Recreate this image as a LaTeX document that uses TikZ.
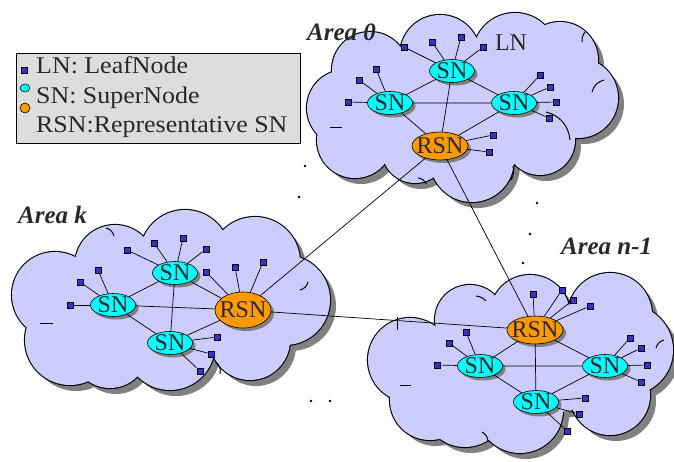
\documentclass[tikz,border=0pt]{standalone}
\usepackage{fontspec}
\setmainfont{Liberation Serif}
\newfontfamily\legendfont[FakeStretch=1.08]{Liberation Serif}
\usetikzlibrary{shapes.geometric,shadows}

\definecolor{cloudc}{RGB}{204,204,255}
\definecolor{shadowc}{RGB}{128,128,128}
\definecolor{snc}{RGB}{0,255,255}
\definecolor{rsnc}{RGB}{255,153,0}
\definecolor{leafc}{RGB}{51,51,204}
\definecolor{legendc}{RGB}{221,221,221}
\definecolor{textc}{RGB}{40,40,40}

% a cloud = union of circles (cx/cy/r) plus a filler ellipse, with a drop shadow
\newcommand\drawcloud[2]{%
  \begin{scope}[shift={(6,6)}]
    \fill[shadowc] \foreach \cx/\cy/\r in {#1}{(\cx,\cy) circle[radius=\r]} #2;
  \end{scope}
  \draw[line width=2.2pt] \foreach \cx/\cy/\r in {#1}{(\cx,\cy) circle[radius=\r]};
  \fill[cloudc] \foreach \cx/\cy/\r in {#1}{(\cx,\cy) circle[radius=\r]} #2;
}

\begin{document}
\begin{tikzpicture}[x=1pt,y=-1pt,
  link/.style={line width=0.7pt},
  curl/.style={line width=1pt},
  nshadow/.style={drop shadow={shadow xshift=3pt,shadow yshift=-3pt,fill=shadowc,opacity=1}},
  sn/.style={ellipse,draw,line width=0.6pt,fill=snc,minimum width=45,minimum height=23,inner sep=0,nshadow},
  rsn/.style={ellipse,draw,line width=0.6pt,fill=rsnc,minimum width=56,minimum height=28,inner sep=0,nshadow},
  lbl/.style={font=\fontsize{24}{24}\selectfont,text=textc,inner sep=0},
  leaf/.style={rectangle,draw,line width=0.5pt,fill=leafc,minimum size=6.5,inner sep=0},
  area/.style={font=\fontsize{25}{25}\selectfont\bfseries\itshape,text=textc,inner sep=0,anchor=base west},
  legtext/.style={font=\legendfont\fontsize{24}{24}\selectfont,text=textc,inner sep=0,anchor=base west},
  dot/.style={circle,fill=black,inner sep=0,minimum size=2.6}]
\useasboundingbox (0,0) rectangle (674,461);

% ---------------- clouds ----------------
\drawcloud{345/108/38,355/140/38,370/70/38,440/55/40,515/55/42,560/60/38,578/98/40,540/140/35,472/160/42,415/150/33}{(460,105) ellipse[x radius=90,y radius=45]}
\drawcloud{55/295/43,70/340/45,115/265/40,185/255/45,255/262/45,285/300/45,250/340/40,170/345/45,110/350/38}{(175,300) ellipse[x radius=115,y radius=50]}
\drawcloud{410/360/42,430/400/40,470/320/35,530/315/40,610/315/42,628/350/45,610/395/40,520/410/43,465/405/42}{(525,365) ellipse[x radius=105,y radius=50]}

% inner curls of the clouds
\draw[curl] (330,127) -- (342,127);
\draw[curl] (546,112) to[bend left=35] (570,140);
\draw[curl] (592,92) to[bend left=30] (604,80);
\draw[curl] (582,42) to[bend left=20] (585,32);
\draw[curl] (513,166) to[bend left=20] (511,180);
\draw[curl] (418,178) to[bend left=30] (426,184);
\draw[curl] (40,323) -- (53,323);
\draw[curl] (106,228) to[bend left=30] (114,236);
\draw[curl] (300,290) to[bend right=30] (308,282);
\draw[curl] (216,362) to[bend left=30] (220,374);
\draw[curl] (397,317) -- (397,330);
\draw[curl] (400,385) -- (411,385);
\draw[curl] (476,296) to[bend left=20] (486,301);
\draw[curl] (656,348) to[bend left=30] (664,340);
\draw[curl] (482,432) to[bend left=30] (488,442);

% ---------------- legend ----------------
\node[draw,line width=0.8pt,fill=legendc,minimum width=284,minimum height=90,inner sep=0] (legend) at (158,98) {};
\node[leaf] (legleaf) at (24,70) {};
\node[ellipse,draw,line width=0.6pt,fill=snc,minimum width=10,minimum height=8,inner sep=0] (legsn) at (25,88) {};
\node[ellipse,draw,line width=0.6pt,fill=rsnc,minimum width=10,minimum height=10,inner sep=0] (legrsn) at (25,108) {};
\node[legtext] (legln) at (36,73) {LN: LeafNode};
\node[legtext] (legsntext) at (36,103) {SN: SuperNode};
\node[legtext] (legrsntext) at (36,132) {RSN:Representative SN};

% ---------------- area labels ----------------
\node[area] (lab0) at (307,40) {Area 0};
\node[area] (labk) at (18,223) {Area k};
\node[area] (labn) at (561,254) {Area n-1};
\node[lbl] (lnlabel) at (511,43) {LN};

% ---------------- super nodes ----------------
\node[sn,label={[lbl]center:SN}] (a0top) at (452,71) {};
\node[sn,label={[lbl]center:SN}] (a0left) at (390,103) {};
\node[sn,label={[lbl]center:SN}] (a0right) at (514,103) {};
\node[rsn,label={[lbl]center:RSN}] (a0rsn) at (440,146) {};

\node[sn,label={[lbl]center:SN}] (aktop) at (175,273) {};
\node[sn,label={[lbl]center:SN}] (akleft) at (113,305) {};
\node[sn,label={[lbl]center:SN}] (akbot) at (170,343) {};
\node[rsn,minimum height=36,label={[lbl]center:RSN}] (akrsn) at (243,310) {};

\node[sn,label={[lbl]center:SN}] (anleft) at (480,366) {};
\node[sn,label={[lbl]center:SN}] (anright) at (605,366) {};
\node[sn,label={[lbl]center:SN}] (anbot) at (536,402) {};
\node[rsn,label={[lbl]center:RSN}] (anrsn) at (535,330) {};

% links between the representatives
\draw[link] (a0rsn) -- (akrsn);
\draw[link] (a0rsn) -- (anrsn);
\draw[link] (akrsn) -- (anrsn);

% links inside each area
\draw[link] (a0top) -- (a0left) (a0top) -- (a0right) (a0left) -- (a0right)
  (a0left) -- (a0rsn) (a0right) -- (a0rsn) (a0top) -- (a0rsn);
\draw[link] (aktop) -- (akleft) (aktop) -- (akbot) (akleft) -- (akbot)
  (akleft) -- (akrsn) (aktop) -- (akrsn) (akbot) -- (akrsn);
\draw[link] (anrsn) -- (anleft) (anrsn) -- (anright) (anrsn) -- (anbot)
  (anleft) -- (anright) (anleft) -- (anbot) (anright) -- (anbot);

% ---------------- leaf nodes ----------------
\foreach \sn/\pts/\tag in {
  a0top/{404/47,432/42,461/37,483/47}/a,
  a0left/{376/69,359/80,348/102}/b,
  a0right/{540/75,550/87,556/102,549/118}/c,
  a0rsn/{493/135,489/152}/d,
  aktop/{127/250,154/243,183/238,206/249}/e,
  akleft/{98/270,80/282,70/305}/f,
  akbot/{217/337,211/354,200/371}/g,
  akrsn/{206/272,235/267,263/262}/h,
  anrsn/{533/294,562/290,573/300,590/306}/i,
  anleft/{466/332,449/343,437/365}/j,
  anright/{630/338,641/348,647/365,641/382}/k,
  anbot/{585/398,579/414,567/431}/l}{
  \foreach \px/\py [count=\i] in \pts {
    \node[leaf] (leaf\tag\i) at (\px,\py) {};
    \draw[link] (\sn) -- (leaf\tag\i);
  }
}

% ---------------- ellipsis dots ----------------
\node[dot] (d1) at (305,166) {};
\node[dot] (d2) at (299,197) {};
\node[dot] (d3) at (537,203) {};
\node[dot] (d4) at (530,234) {};
\node[dot] (d5) at (523,263) {};
\node[dot] (d6) at (311,401) {};
\node[dot] (d7) at (330,401) {};
\end{tikzpicture}
\end{document}
